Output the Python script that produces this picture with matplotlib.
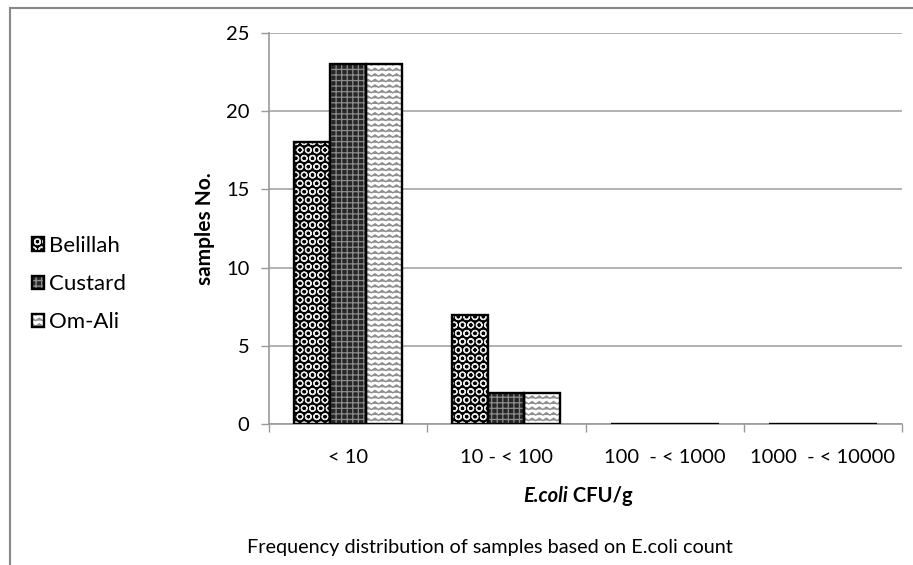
import numpy as np
import matplotlib
matplotlib.use("Agg")
import matplotlib.pyplot as plt
import matplotlib.hatch as mhatch
from matplotlib.path import Path
import warnings

warnings.filterwarnings("ignore")

# ---------------- data ----------------
categories = ["< 10", "10 - < 100", "100  - < 1000", "1000  - < 10000"]
series_names = ["Belillah", "Custard", "Om-Ali"]
belillah = [18, 7, 0, 0]
custard = [23, 2, 0, 0]
om_ali = [23, 2, 0, 0]
y_ticks = [0, 5, 10, 15, 20, 25]


# ------------- custom zigzag hatch ('z') -------------
class ZigZagHatch(mhatch.HatchPatternBase):
    def __init__(self, hatch, density):
        self.num_rows = int(hatch.count('z') * density)
        self.periods = 14
        self.per_row = 2 * self.periods + 1
        self.num_vertices = self.num_rows * self.per_row

    def set_vertices_and_codes(self, vertices, codes):
        rows = np.linspace(0.0, 1.0, self.num_rows, endpoint=False)
        rows += 0.5 / max(self.num_rows, 1)
        xs = np.linspace(0.0, 1.0, self.per_row)
        amp = 0.012
        offs = np.where(np.arange(self.per_row) % 2 == 0, -amp, amp)
        i = 0
        for r in rows:
            vertices[i:i + self.per_row, 0] = xs
            vertices[i:i + self.per_row, 1] = r + offs
            codes[i] = Path.MOVETO
            codes[i + 1:i + self.per_row] = Path.LINETO
            i += self.per_row


mhatch._hatch_types.append(ZigZagHatch)

plt.rcParams['font.family'] = ['Lato', 'DejaVu Sans']

fig = plt.figure(figsize=(9.13, 5.65), dpi=100)
ax = fig.add_axes([269 / 913, 1 - 424 / 565, (902 - 269) / 913, (424 - 33) / 565])

x = np.arange(len(categories))
w = 0.228
styles = [
    dict(face='black', hatch='OO', hcol='#e8e8e8', hlw=0.9),
    dict(face='#262626', hatch='+++', hcol='#8c8c8c', hlw=0.9),
    dict(face='white', hatch='zzz', hcol='#8f8f8f', hlw=1.0),
]
handles = []
for i, (vals, st) in enumerate(zip([belillah, custard, om_ali], styles)):
    pos = x + (i - 1) * w
    with plt.rc_context({'hatch.linewidth': st['hlw']}):
        b1 = ax.bar(pos, vals, w, color=st['face'], edgecolor=st['hcol'],
                    hatch=st['hatch'], linewidth=0, zorder=3)
    b2 = ax.bar(pos, vals, w, fill=False, edgecolor='black', linewidth=1.7,
                zorder=4)
    handles.append((b1[0], b2[0]))

ax.set_xlim(-0.5, len(categories) - 0.5)
ax.set_ylim(0, 25)
ax.set_yticks(y_ticks)
ax.set_yticklabels([str(t) for t in y_ticks])
ax.set_xticks(x)
ax.set_xticklabels(categories)
ax.set_xticks(np.arange(len(categories) + 1) - 0.5, minor=True)
ax.tick_params(axis='x', which='major', length=0, pad=18, labelsize=14.5,
               labelcolor='black')
ax.tick_params(axis='x', which='minor', length=6, color='#999999', width=1)
ax.tick_params(axis='y', length=6, color='#999999', width=1, pad=8,
               labelsize=14.5)
ax.yaxis.grid(True, color='#a6a6a6', linewidth=1.2, zorder=0)
ax.set_axisbelow(True)
for s in ['top', 'right']:
    ax.spines[s].set_visible(False)
for s in ['left', 'bottom']:
    ax.spines[s].set_color('#999999')
    ax.spines[s].set_linewidth(1.2)

ax.set_ylabel('samples No.', fontsize=15, fontweight='bold', labelpad=8)

# x label: "E.coli" bold italic + " CFU/g" bold
fig.canvas.draw()
r = fig.canvas.get_renderer()
cx = 578 / 913
ly = 1 - 496 / 565
t1 = fig.text(0, ly, 'E.coli', fontsize=14.5, fontweight='bold',
              fontstyle='italic', va='center', ha='left')
t2 = fig.text(0, ly, ' CFU/g', fontsize=14.5, fontweight='bold',
              va='center', ha='left')
w1 = t1.get_window_extent(r).width / 913
w2 = t2.get_window_extent(r).width / 913
start = cx - (w1 + w2) / 2
t1.set_x(start)
t2.set_x(start + w1)

fig.text(490 / 913, 1 - 548 / 565,
         'Frequency distribution of samples based on E.coli count',
         fontsize=14.3, ha='center', va='center')

leg = fig.legend(handles, series_names, loc='upper left',
                 bbox_to_anchor=(12 / 913, 1 - 216 / 565), frameon=False,
                 fontsize=16, handlelength=0.55, handleheight=0.55,
                 handletextpad=0.2, labelspacing=0.82)

# outer border (top & left)
fig.add_artist(plt.Line2D([10 / 913, 10 / 913], [0, 1 - 8 / 565],
                          transform=fig.transFigure, color='#888888', lw=1.5))
fig.add_artist(plt.Line2D([10 / 913, 1], [1 - 8 / 565, 1 - 8 / 565],
                          transform=fig.transFigure, color='#888888', lw=1.5))

fig.savefig('out.png', dpi=100)
